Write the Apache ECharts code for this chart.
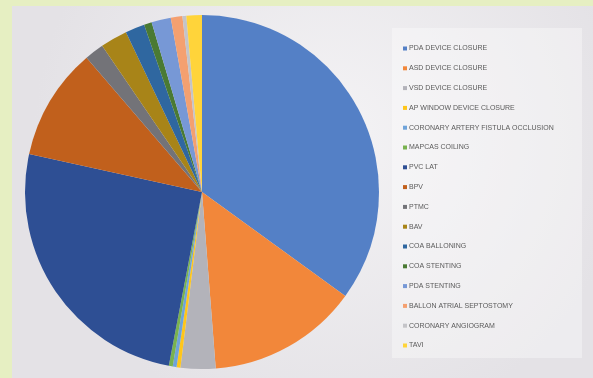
<!DOCTYPE html>
<html>
<head>
<meta charset="utf-8">
<script src="https://cdn.jsdelivr.net/npm/echarts@6/dist/echarts.min.js"></script>
<style>
  html, body { margin: 0; padding: 0; background: #E6EFC2; }
  #chart { width: 593px; height: 378px; }
</style>
</head>
<body>
<div id="chart"></div>
<script>
// Procedure names, in legend order
const procedures = [
  'PDA DEVICE CLOSURE',
  'ASD DEVICE CLOSURE',
  'VSD DEVICE CLOSURE',
  'AP WINDOW DEVICE CLOSURE',
  'CORONARY ARTERY FISTULA OCCLUSION',
  'MAPCAS COILING',
  'PVC LAT',
  'BPV',
  'PTMC',
  'BAV',
  'COA BALLONING',
  'COA STENTING',
  'PDA STENTING',
  'BALLON ATRIAL SEPTOSTOMY',
  'CORONARY ANGIOGRAM',
  'TAVI'
];

// Number of cases per procedure
const cases = [99, 39, 9, 1, 1, 1, 72, 29, 5, 7, 5, 2, 5, 3, 1, 4];

// Slice palette
const palette = [
  '#5480C6', '#F2873A', '#B3B3BA', '#FFC61A', '#6FA3DA', '#79B24F',
  '#2E4F94', '#C1601C', '#737378', '#A88418', '#2F67A0', '#4A7A33',
  '#7798D6', '#F4A070', '#C4C4C8', '#FFD43A'
];

const chart = echarts.init(document.getElementById('chart'), null, { renderer: 'canvas' });

chart.setOption({
  backgroundColor: '#E6EFC2',
  animation: false,
  color: palette,
  graphic: [
    {
      type: 'rect',
      z: -10,
      shape: { x: 12, y: 6, width: 581, height: 372 },
      style: {
        fill: {
          type: 'radial', x: 0.55, y: 0.35, r: 0.8,
          colorStops: [
            { offset: 0, color: '#F4F3F5' },
            { offset: 1, color: '#E4E2E6' }
          ]
        }
      }
    },
    {
      type: 'rect',
      z: -9,
      shape: { x: 392, y: 28, width: 190, height: 330 },
      style: { fill: 'rgba(255,255,255,0.35)' }
    }
  ],
  legend: {
    orient: 'vertical',
    left: 398,
    top: 40,
    itemWidth: 4,
    itemHeight: 4,
    itemGap: 12.8,
    icon: 'rect',
    textStyle: { fontSize: 7, color: '#5A5A5A', fontFamily: 'Liberation Sans', padding: [0, 0, 0, -3] },
    data: procedures
  },
  series: [{
    type: 'pie',
    center: [202, 192],
    radius: 177,
    startAngle: 90,
    clockwise: true,
    label: { show: false },
    labelLine: { show: false },
    itemStyle: { borderWidth: 0 },
    emphasis: { disabled: true },
    data: procedures.map((name, i) => ({ name, value: cases[i] }))
  }]
});
</script>
</body>
</html>
